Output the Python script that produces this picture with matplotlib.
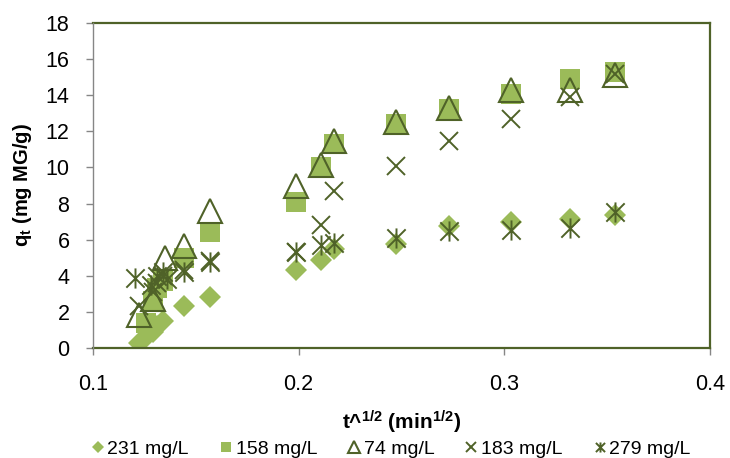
import matplotlib
matplotlib.use("Agg")
import matplotlib.pyplot as plt
from matplotlib.path import Path

plt.rcParams['font.family'] = ['Liberation Sans', 'DejaVu Sans']
plt.rcParams['mathtext.fontset'] = 'custom'
plt.rcParams['mathtext.rm'] = 'Liberation Sans'
plt.rcParams['mathtext.bf'] = 'Liberation Sans:bold'
plt.rcParams['mathtext.it'] = 'Liberation Sans:italic'

# ---- data ----
x_231 = [0.1224, 0.1260, 0.1290, 0.1313, 0.1340, 0.1444, 0.1569, 0.1987, 0.2107, 0.2172, 0.2473, 0.2729, 0.3031, 0.3319, 0.3538]
y_231 = [0.25, 0.6, 0.9, 1.2, 1.5, 2.35, 2.85, 4.3, 4.85, 5.5, 5.75, 6.75, 7.0, 7.15, 7.35]

x_158 = [0.1260, 0.1290, 0.1313, 0.1340, 0.1444, 0.1569, 0.1987, 0.2107, 0.2172, 0.2473, 0.2729, 0.3031, 0.3319, 0.3538]
y_158 = [1.4, 2.6, 3.3, 3.7, 5.0, 6.4, 8.1, 10.0, 11.3, 12.4, 13.25, 14.05, 14.9, 15.3]

x_74 = [0.1224, 0.1290, 0.1350, 0.1444, 0.1569, 0.1987, 0.2107, 0.2172, 0.2473, 0.2729, 0.3031, 0.3319, 0.3538]
y_74 = [1.85, 2.7, 5.0, 5.65, 7.6, 9.0, 10.15, 11.45, 12.5, 13.3, 14.3, 14.3, 15.1]

x_183 = [0.1224, 0.1290, 0.1313, 0.1340, 0.1444, 0.1569, 0.1987, 0.2107, 0.2172, 0.2473, 0.2729, 0.3031, 0.3319, 0.3538]
y_183 = [2.3, 3.1, 3.6, 4.0, 4.3, 4.8, 5.3, 6.8, 8.7, 10.1, 11.45, 12.7, 13.9, 15.2]

x_279 = [0.1204, 0.1280, 0.1313, 0.1340, 0.1360, 0.1444, 0.1569, 0.1987, 0.2107, 0.2172, 0.2473, 0.2729, 0.3031, 0.3319, 0.3538]
y_279 = [3.9, 3.5, 4.0, 4.2, 3.8, 4.2, 4.78, 5.33, 5.7, 5.83, 6.07, 6.5, 6.53, 6.63, 7.55]

labels = ['231 mg/L', '158 mg/L', '74 mg/L', '183 mg/L', '279 mg/L']
x_ticks = [0.1, 0.2, 0.3, 0.4]
y_ticks = [0, 2, 4, 6, 8, 10, 12, 14, 16, 18]

light = '#9BBB59'
dark = '#4F6228'
grey = '#868686'

ast = Path([(-1, -1), (1, 1), (-1, 1), (1, -1), (0, -1.1), (0, 1.1)],
           [Path.MOVETO, Path.LINETO, Path.MOVETO, Path.LINETO, Path.MOVETO, Path.LINETO])

fig = plt.figure(figsize=(7.30, 4.58), dpi=100)
ax = fig.add_axes([93/730, 1-348/458, (710-93)/730, (348-23)/458])

h1, = ax.plot(x_231, y_231, ls='none', marker='D', ms=11.7, mfc=light, mec=light, mew=0, label=labels[0])
h2, = ax.plot(x_158, y_158, ls='none', marker='s', ms=13.7, mfc=light, mec=light, mew=0, label=labels[1])
h3, = ax.plot(x_74, y_74, ls='none', marker='^', ms=17.5, mfc='none', mec=dark, mew=1.5, label=labels[2])
h4, = ax.plot(x_183, y_183, ls='none', marker='x', ms=13, mec=dark, mew=1.4, label=labels[3])
h5, = ax.plot(x_279, y_279, ls='none', marker=ast, ms=14.5, mec=dark, mfc='none', mew=1.4, label=labels[4])

ax.set_xlim(0.1, 0.4)
ax.set_ylim(0, 18)
ax.set_xticks(x_ticks)
ax.set_xticklabels([str(v) for v in x_ticks])
ax.set_yticks(y_ticks)

for s in ['top', 'right', 'bottom']:
    ax.spines[s].set_color(dark)
    ax.spines[s].set_linewidth(1.6)
ax.spines['left'].set_color(grey)
ax.spines['left'].set_linewidth(1.0)
ax.spines['left'].set_zorder(3)

ax.tick_params(axis='y', direction='out', length=5, width=1, color=grey, labelsize=15.5, pad=12)
ax.tick_params(axis='x', direction='out', length=5, width=1, color=grey, labelsize=15.5, pad=14)

ax.set_xlabel('t^$^{\\mathbf{1/2}}$ (min$^{\\mathbf{1/2}}$)', fontsize=15, fontweight='bold', labelpad=10)
ax.set_ylabel('q$_{\\mathbf{t}}$ (mg MG/g)', fontsize=14.5, fontweight='bold', labelpad=8)

leg = fig.legend(handles=[h1, h2, h3, h4, h5], loc='center', bbox_to_anchor=(0.536, 1-449/458),
                 ncol=5, frameon=False, fontsize=14, markerscale=0.5,
                 handlelength=0.6, handletextpad=0.2, columnspacing=1.6, borderpad=0)

fig.savefig('out.png', dpi=100)
